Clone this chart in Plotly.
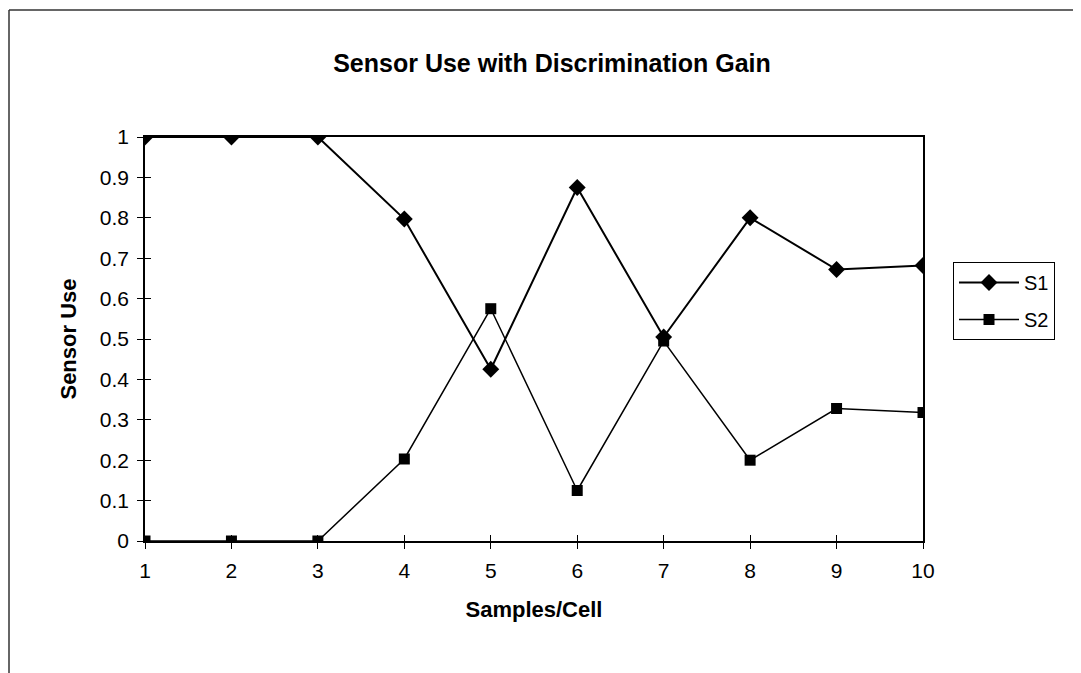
import plotly.graph_objects as go

samples = [1, 2, 3, 4, 5, 6, 7, 8, 9, 10]
s1 = [1.0, 1.0, 1.0, 0.797, 0.425, 0.875, 0.505, 0.80, 0.672, 0.682]
s2 = [0.0, 0.0, 0.0, 0.203, 0.575, 0.125, 0.495, 0.20, 0.328, 0.318]
y_ticks = [0, 0.1, 0.2, 0.3, 0.4, 0.5, 0.6, 0.7, 0.8, 0.9, 1]
y_tick_text = ["0", "0.1", "0.2", "0.3", "0.4", "0.5", "0.6", "0.7", "0.8", "0.9", "1"]

OFF = 8  # page body margin
W, H = 1081 - OFF, 673 - OFF
# plot area in screenshot pixels
PX0, PX1, PY0, PY1 = 145, 923, 137, 541
L, R, T, B = PX0 - OFF, (W + OFF) - PX1, PY0 - OFF, (H + OFF) - PY1
pw, ph = W - L - R, H - T - B

def px_x(px):
    return (px - PX0) / pw

def px_y(py):
    return (PY1 - py) / ph

FONT = "Arial, Liberation Sans, Helvetica, sans-serif"

fig = go.Figure()
fig.add_trace(go.Scatter(
    x=samples, y=s1, name="S1", mode="lines+markers", legendgroup="a",
    line=dict(color="black", width=2),
    marker=dict(symbol="diamond", size=13, color="black"),
))
fig.add_trace(go.Scatter(
    x=samples, y=s2, name="S2", mode="lines+markers", legendgroup="b",
    line=dict(color="black", width=1.5),
    marker=dict(symbol="square", size=11, color="black"),
))
# helper trace for overlay axes (inner half of crossing ticks)
fig.add_trace(go.Scatter(x=[None], y=[None], xaxis="x2", yaxis="y2",
                         showlegend=False, hoverinfo="skip"))

axis_common = dict(showgrid=False, zeroline=False, tickcolor="black",
                   ticklen=6, tickwidth=1)

fig.update_layout(
    width=W, height=H,
    margin=dict(l=L, r=R, t=T, b=B),
    paper_bgcolor="white", plot_bgcolor="white",
    font=dict(family=FONT, size=21, color="black"),
    title=dict(text="<b>Sensor Use with Discrimination Gain</b>",
               x=(552 - OFF) / W, xanchor="center",
               y=1 - (63 - OFF) / H, yanchor="middle",
               font=dict(family=FONT, size=25, color="black")),
    xaxis=dict(range=[1, 10], tickmode="array", tickvals=samples,
               ticks="outside", mirror=True, showline=True,
               linecolor="black", linewidth=1.5, ticklabelstandoff=4,
               title=dict(text="<b>Samples/Cell</b>", font=dict(size=22), standoff=21),
               **axis_common),
    yaxis=dict(range=[0, 1], tickmode="array", tickvals=y_ticks, ticktext=y_tick_text,
               ticks="outside", mirror=True, showline=True,
               linecolor="black", linewidth=1.5, ticklabelstandoff=4,
               title=dict(text="<b>Sensor Use</b>", font=dict(size=22), standoff=17),
               **axis_common),
    xaxis2=dict(range=[1, 10], overlaying="x", anchor="y2", tickmode="array",
                tickvals=samples, ticks="inside", showticklabels=False,
                showline=False, **axis_common),
    yaxis2=dict(range=[0, 1], overlaying="y", anchor="x2", tickmode="array",
                tickvals=y_ticks, ticks="inside", showticklabels=False,
                showline=False, **axis_common),
    legend=dict(x=px_x(953), y=px_y(262), xanchor="left", yanchor="top",
                bordercolor="black", borderwidth=1, bgcolor="white",
                font=dict(size=20, family=FONT), itemwidth=60,
                traceorder="grouped", tracegroupgap=8),
    showlegend=True,
    shapes=[
        dict(type="line", xref="paper", yref="paper",
             x0=px_x(9), x1=px_x(9), y0=px_y(10), y1=px_y(673),
             line=dict(color="#333", width=1.5)),
        dict(type="line", xref="paper", yref="paper",
             x0=px_x(9), x1=px_x(1081), y0=px_y(10), y1=px_y(10),
             line=dict(color="#333", width=1.5)),
    ],
)

fig.write_html("out.html")
